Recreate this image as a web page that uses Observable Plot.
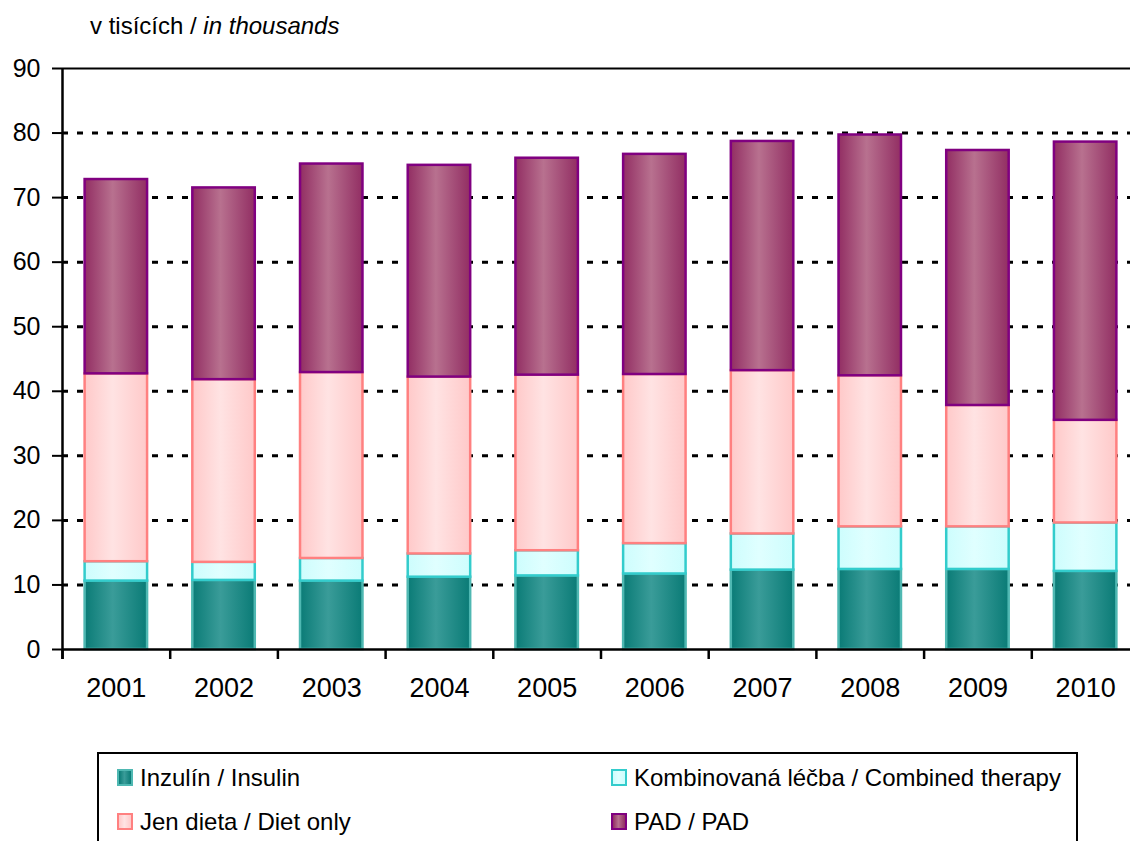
<!DOCTYPE html>
<html><head><meta charset="utf-8">
<script src="https://cdn.jsdelivr.net/npm/d3@7"></script>
<script src="https://cdn.jsdelivr.net/npm/@observablehq/plot@0.6"></script>
<style>
html,body{margin:0;padding:0;background:#fff;overflow:hidden;width:1130px;height:841px}
#wrap{position:relative;width:1130px;height:841px;overflow:hidden;background:#fff}
#title{position:absolute;left:90px;top:10px;font-family:"Liberation Sans",Arial,sans-serif;font-size:24px;line-height:32px;color:#000;white-space:nowrap}
#chart{position:absolute;left:0;top:0;width:1139px}
#legend{position:absolute;left:97px;top:752px;width:981px;height:130px;border:2px solid #000;box-sizing:border-box}
.item{position:absolute;font-family:"Liberation Sans",Arial,sans-serif;font-size:24px;line-height:28px;white-space:nowrap;color:#000}
.sw{position:absolute;left:0;top:5px;width:12px;height:13px;border:2px solid}
.lab{position:absolute;left:23px;top:0}
</style></head>
<body><div id="wrap"><div id="title">v tisících / <i>in thousands</i></div><div id="chart"></div><div id="legend"></div></div>
<script>
const years = ["2001","2002","2003","2004","2005","2006","2007","2008","2009","2010"];
const insulin  = [10.6,10.7,10.6,11.2,11.4,11.7,12.3,12.4,12.4,12.1];
const combined = [3.0,2.8,3.5,3.6,3.9,4.7,5.6,6.6,6.6,7.5];
const dietOnly = [29.1,28.3,28.8,27.4,27.2,26.2,25.3,23.4,18.8,15.9];
const pad      = [30.1,29.7,32.3,32.8,33.6,34.1,35.5,37.3,39.5,43.1];
const seriesKeys = ["insulin","combined","diet","pad"];
const seriesLabels = ["Inzulín / Insulin","Kombinovaná léčba / Combined therapy","Jen dieta / Diet only","PAD / PAD"];
const yTicks = [0,10,20,30,40,50,60,70,80,90];
const gridTicks = [10,20,30,40,50,60,70,80];

const seriesValues = {insulin, combined, diet: dietOnly, pad};
const gradStops = {
  insulin:  ["#0a7b76","#3a9c99","#0a7b76"],
  combined: ["#cdfdfd","#e0ffff","#cdfdfd"],
  diet:     ["#ffc9c9","#ffe3e3","#ffc9c9"],
  pad:      ["#922e63","#b8718f","#922e63"]
};
const strokeCol = {insulin:"#4fb8b2", combined:"#33cccc", diet:"#ff8080", pad:"#800080"};
const fillUrl = {insulin:"url(#g-insulin)", combined:"url(#g-combined)", diet:"url(#g-diet)", pad:"url(#g-pad)"};

const rows = [];
years.forEach((yr, i) => seriesKeys.forEach(k => rows.push({year: yr, series: k, value: seriesValues[k][i]})));

const W = 1139, H = 720, ML = 62, MR = 0, MT = 68, MB = H - 649;
const step = (W - ML - MR) / years.length;
const font = "'Liberation Sans',Arial,sans-serif";

const chart = Plot.plot({
  width: W, height: H,
  marginLeft: ML, marginRight: MR, marginTop: MT, marginBottom: MB,
  style: {maxWidth: "none", overflow: "visible", background: "transparent", color: "#000", fontFamily: font},
  x: {domain: years, paddingInner: 0.42, paddingOuter: 0.21, align: 0.5, round: false, axis: null, label: null},
  y: {domain: [0, 90], axis: null, label: null},
  color: {type: "identity"},
  marks: [
    Plot.ruleY(gridTicks, {stroke: "#000", strokeWidth: 3, strokeDasharray: "6,9"}),
    Plot.barY(rows, Plot.stackY({x: "year", y: "value", fill: d => fillUrl[d.series], stroke: d => strokeCol[d.series], strokeWidth: 2.5})),
    Plot.ruleY([90], {stroke: "#000", strokeWidth: 2}),
    Plot.ruleY([0], {stroke: "#000", strokeWidth: 2.5}),
    Plot.ruleX(years, {x: d => d, dx: -step / 2, y1: 0, y2: -1.55, stroke: "#000", strokeWidth: 2.5}),
    Plot.ruleX([years[0]], {x: d => d, dx: -step / 2, y1: 90, y2: -1.55, stroke: "#000", strokeWidth: 2.5}),
    Plot.axisY(yTicks, {tickSize: 10, tickPadding: 12, strokeWidth: 2, fontSize: 25, fontFamily: font, label: null}),
    Plot.axisX({tickSize: 0, tickPadding: 28, fontSize: 27, fontFamily: font, label: null})
  ]
});
document.getElementById("chart").appendChild(chart);

const svg = d3.select(chart.tagName.toLowerCase() === "svg" ? chart : chart.querySelector("svg"));
const defs = svg.insert("defs", ":first-child");
seriesKeys.forEach(k => {
  const g = defs.append("linearGradient").attr("id", "g-" + k).attr("x1", 0).attr("x2", 1).attr("y1", 0).attr("y2", 0);
  const s = gradStops[k];
  g.append("stop").attr("offset", "0%").attr("stop-color", s[0]);
  g.append("stop").attr("offset", "45%").attr("stop-color", s[1]);
  g.append("stop").attr("offset", "100%").attr("stop-color", s[2]);
});

const legend = d3.select("#legend");
const pos = [[18, 10], [512, 10], [18, 54], [512, 54]];
seriesKeys.forEach((k, i) => {
  const s = gradStops[k];
  const it = legend.append("div").attr("class", "item").style("left", pos[i][0] + "px").style("top", pos[i][1] + "px");
  it.append("div").attr("class", "sw")
    .style("border-color", strokeCol[k])
    .style("background", `linear-gradient(to right, ${s[0]}, ${s[1]} 45%, ${s[2]})`);
  it.append("div").attr("class", "lab").text(seriesLabels[i]);
});
</script>
</body></html>
